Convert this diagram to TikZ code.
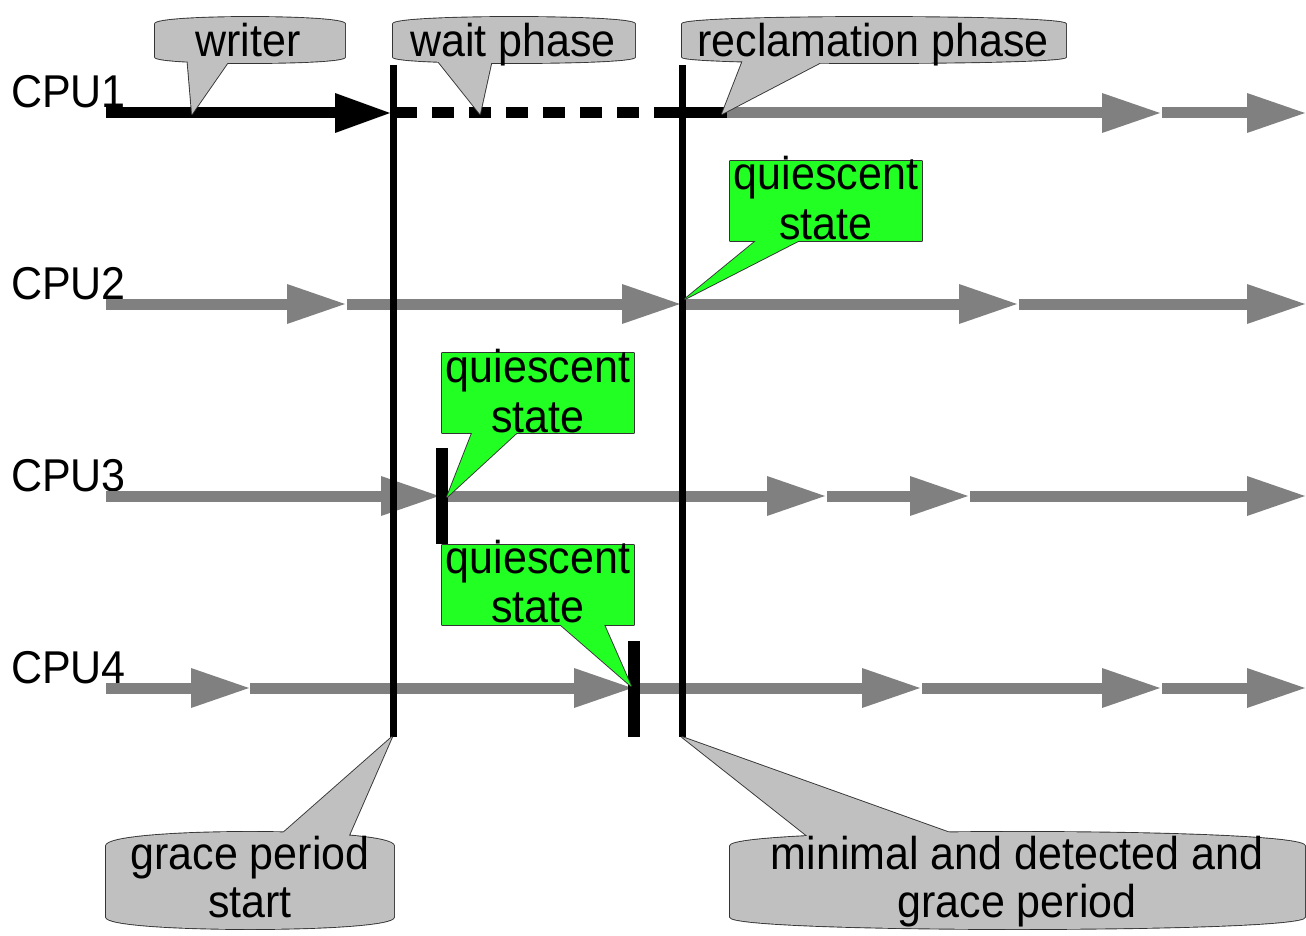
\documentclass[tikz,border=0pt]{standalone}
\usepackage{fontspec}
\setmainfont{Liberation Sans}
\usetikzlibrary{arrows.meta}
\definecolor{lgrey}{RGB}{128,128,128}
\definecolor{cfill}{RGB}{192,192,192}
\definecolor{cline}{RGB}{52,52,52}
\definecolor{qfill}{RGB}{34,255,34}
\newcommand{\tallt}[1]{\scalebox{1}[1.07]{#1}}
\begin{document}
\begin{tikzpicture}[x=1pt,y=-1pt,
  txt/.style={font=\fontsize{43}{50}\selectfont, inner sep=0pt, anchor=base},
  lbl/.style={font=\fontsize{43}{50}\selectfont, inner sep=0pt, anchor=base west},
  garrow/.style={draw=lgrey, line width=11pt, -{Triangle[length=58pt,width=40pt,line width=0pt]}},
  barrow/.style={draw=black, line width=11pt, -{Triangle[length=55pt,width=40pt,line width=0pt]}},
  bline/.style={draw=black, line width=11pt},
  dline/.style={draw=black, line width=11pt, dash pattern=on 22pt off 15pt},
  vline/.style={draw=black, line width=7pt},
  qbar/.style={draw=black, line width=11.5pt},
  cout/.style={draw=cline, line width=1.8pt, line join=round},
  tbox/.style n args={4}{insert path={(#1,#2+7) .. controls (#1,#2-2.3) and (#3,#2-2.3) .. (#3,#2+7) -- (#3,#4-6) .. controls (#3,#4+2) and (#1,#4+2) .. (#1,#4-6) -- cycle}},
  bbox/.style n args={4}{insert path={(#1,#2+14) .. controls (#1,#2-4.7) and (#3,#2-4.7) .. (#3,#2+14) -- (#3,#4-12) .. controls (#3,#4+4) and (#1,#4+4) .. (#1,#4-12) -- cycle}}
]
\useasboundingbox (0,0) rectangle (1306,936);

% ---------- CPU labels ----------
\node[lbl] (cpu1) at (11,108) {\tallt{CPU1}};
\node[lbl] (cpu2) at (11,299) {\tallt{CPU2}};
\node[lbl] (cpu3) at (11,491) {\tallt{CPU3}};
\node[lbl] (cpu4) at (11,683) {\tallt{CPU4}};

% ---------- timelines ----------
% CPU1
\foreach \x [count=\i] in {106,390,395,682,676,727,1160,1162,1305}
  \coordinate (ra\i) at (\x,113);
\draw[barrow] (ra1) -- (ra2);
\draw[dline] (ra3) -- (ra4);
\draw[bline] (ra5) -- (ra6);
\draw[garrow] (ra6) -- (ra7);
\draw[garrow] (ra8) -- (ra9);
% CPU2
\foreach \x [count=\i] in {106,345,347,680,684,1017,1019,1305}
  \coordinate (rb\i) at (\x,304);
\foreach \i/\j in {1/2,3/4,5/6,7/8}
  \draw[garrow] (rb\i) -- (rb\j);
% CPU3
\foreach \x [count=\i] in {106,439,446,825,827,968,970,1305}
  \coordinate (rc\i) at (\x,496);
\foreach \i/\j in {1/2,3/4,5/6,7/8}
  \draw[garrow] (rc\i) -- (rc\j);
% CPU4
\foreach \x [count=\i] in {106,249,250,632,634,920,922,1160,1162,1305}
  \coordinate (rd\i) at (\x,688);
\foreach \i/\j in {1/2,3/4,5/6,7/8,9/10}
  \draw[garrow] (rd\i) -- (rd\j);

% ---------- grace period boundaries ----------
\coordinate (gst) at (393.5,65);
\coordinate (gsb) at (393.5,737);
\coordinate (get) at (682.5,65);
\coordinate (geb) at (682.5,737);
\draw[vline] (gst) -- (gsb);
\draw[vline] (get) -- (geb);

% quiescent bars
\coordinate (q3t) at (442,448);
\coordinate (q3b) at (442,544);
\coordinate (q4t) at (634,641);
\coordinate (q4b) at (634,737);
\draw[qbar] (q3t) -- (q3b);
\draw[qbar] (q4t) -- (q4b);

% ---------- grey top callouts ----------
% writer
\path[cout, tbox={155}{17}{345}{63}] (187,55) -- (192,114) -- (233,55) -- cycle;
\fill[cfill, tbox={155}{17}{345}{63}];
\fill[cfill] (187,55) -- (192,114) -- (233,55) -- cycle;
% wait phase
\path[cout, tbox={393}{17}{635}{63}] (433,55) -- (480,114) -- (493,55) -- cycle;
\fill[cfill, tbox={393}{17}{635}{63}];
\fill[cfill] (433,55) -- (480,114) -- (493,55) -- cycle;
% reclamation phase
\path[cout, tbox={682}{17}{1066}{63}] (745,55) -- (722,114) -- (835,55) -- cycle;
\fill[cfill, tbox={682}{17}{1066}{63}];
\fill[cfill] (745,55) -- (722,114) -- (835,55) -- cycle;

% ---------- green callouts ----------
\path[cout] (730,161) rectangle (922,241) (762,236) -- (685,299) -- (808,236) -- cycle;
\fill[qfill] (730,161) rectangle (922,241);
\fill[qfill] (762,236) -- (685,299) -- (808,236) -- cycle;

\path[cout] (442,353) rectangle (634,433) (474,428) -- (447,497) -- (522,428) -- cycle;
\fill[qfill] (442,353) rectangle (634,433);
\fill[qfill] (474,428) -- (447,497) -- (522,428) -- cycle;

\path[cout] (442,545) rectangle (634,625) (555,620) -- (631,686) -- (602,620) -- cycle;
\fill[qfill] (442,545) rectangle (634,625);
\fill[qfill] (555,620) -- (631,686) -- (602,620) -- cycle;

% ---------- grey bottom callouts ----------
\path[cout, bbox={106}{832}{394}{929}] (275,840) -- (392,737) -- (347,840) -- cycle;
\fill[cfill, bbox={106}{832}{394}{929}];
\fill[cfill] (275,840) -- (392,737) -- (347,840) -- cycle;

\path[cout, bbox={730}{832}{1305}{929}] (815,842) -- (682,737) -- (970,840) -- cycle;
\fill[cfill, bbox={730}{832}{1305}{929}];
\fill[cfill] (815,842) -- (682,737) -- (970,840) -- cycle;

% ---------- texts ----------
\node[txt] (tw) at (248,57) {\tallt{writer}};
\node[txt] (tp) at (513,57) {\tallt{wait phase}};
\node[txt] (tr) at (873,57) {\tallt{reclamation phase}};
\node[txt] (q1a) at (826,190) {\tallt{quiescent}};
\node[txt] (q1b) at (826,240) {\tallt{state}};
\node[txt] (q2a) at (538,382) {\tallt{quiescent}};
\node[txt] (q2b) at (538,432) {\tallt{state}};
\node[txt] (q3a) at (538,573) {\tallt{quiescent}};
\node[txt] (q3b) at (538,622) {\tallt{state}};
\node[txt] (g1) at (250,869) {\tallt{grace period}};
\node[txt] (g2) at (250,917) {\tallt{start}};
\node[txt] (m1) at (1017,869) {\tallt{minimal and detected and}};
\node[txt] (m2) at (1017,917) {\tallt{grace period}};
\end{tikzpicture}
\end{document}
